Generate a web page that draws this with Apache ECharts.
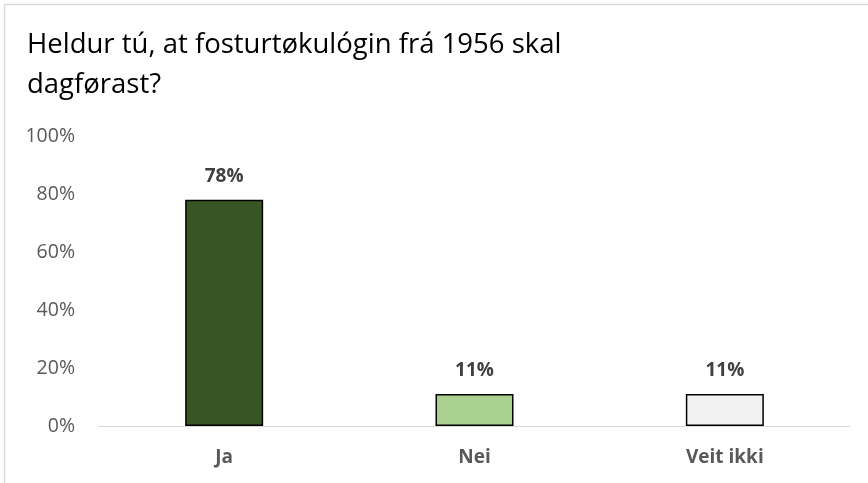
<!DOCTYPE html>
<html>
<head>
<meta charset="utf-8">
<script src="https://cdn.jsdelivr.net/npm/echarts@6/dist/echarts.min.js"></script>
<style>
  html, body { margin: 0; padding: 0; background: #fff; }
  #chart { width: 868px; height: 483px; }
</style>
</head>
<body>
<div id="chart"></div>
<script>
// Svar (kategoriir) og prosentpartar
const categories = ['Ja', 'Nei', 'Veit ikki'];
const values = [78, 11, 11];
const barColors = ['#375623', '#A9D08E', '#F2F2F2'];
const yTicks = [0, 20, 40, 60, 80, 100];

const chart = echarts.init(document.getElementById('chart'));

const font = '"Open Sans", sans-serif';

const option = {
  backgroundColor: '#fff',
  animation: false,
  title: {
    text: 'Heldur tú, at fosturtøkulógin frá 1956 skal\ndagførast?',
    left: 22,
    top: 20,
    textStyle: {
      fontFamily: font,
      fontSize: 27.5,
      fontWeight: 'normal',
      color: '#000',
      lineHeight: 40,
    },
  },
  graphic: [
    {
      type: 'rect',
      shape: { x: 4.5, y: 4.5, width: 900, height: 600 },
      style: { fill: 'none', stroke: '#D9D9D9', lineWidth: 1.5 },
      silent: true,
    },
  ],
  grid: {
    left: 99,
    right: 18,
    top: 136,
    bottom: 57,
  },
  xAxis: {
    type: 'category',
    data: categories,
    axisLine: { lineStyle: { color: '#D9D9D9', width: 1 } },
    axisTick: { show: false },
    axisLabel: {
      color: '#595959',
      fontFamily: font,
      fontSize: 19,
      fontWeight: 'bold',
      margin: 22,
    },
  },
  yAxis: {
    type: 'value',
    min: yTicks[0],
    max: yTicks[yTicks.length - 1],
    interval: 20,
    axisLine: { show: false },
    axisTick: { show: false },
    splitLine: { show: false },
    axisLabel: {
      color: '#595959',
      fontFamily: font,
      fontSize: 19.5,
      margin: 24,
      formatter: '{value}%',
    },
  },
  series: [
    {
      type: 'bar',
      data: values.map((v, i) => ({
        value: v,
        itemStyle: { color: barColors[i] },
      })),
      barWidth: 78,
      itemStyle: { borderColor: '#000', borderWidth: 1.5 },
      label: {
        show: true,
        position: 'top',
        distance: 14,
        formatter: '{c}%',
        color: '#404040',
        fontFamily: font,
        fontSize: 19,
        fontWeight: 'bold',
      },
    },
  ],
};

chart.setOption(option);
</script>
</body>
</html>
